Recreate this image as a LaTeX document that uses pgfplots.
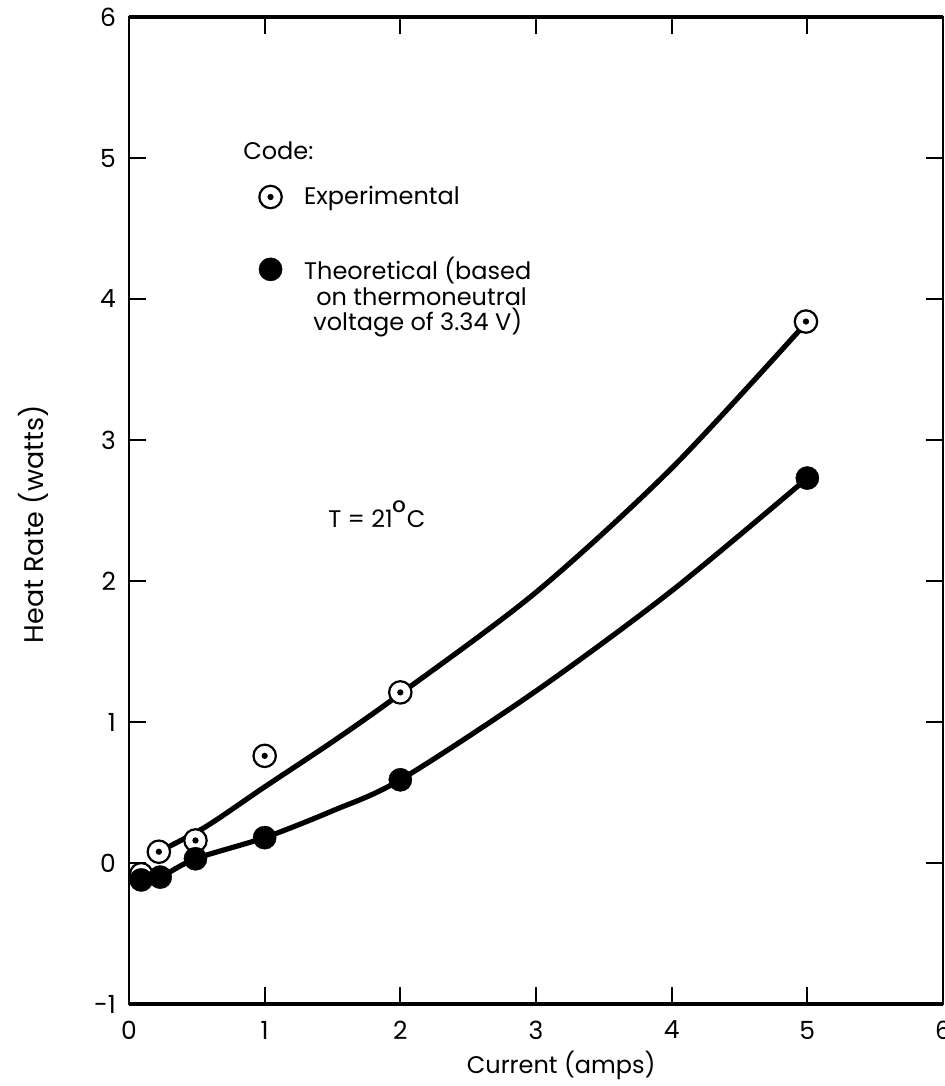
\documentclass[border=0pt]{standalone}
\usepackage{fontspec}
\setmainfont{Poppins}
\usepackage{pgfplots}
\pgfplotsset{compat=1.18}

% open circle with a dot in the middle
\pgfdeclareplotmark{codot}{%
  \pgfpathcircle{\pgfpointorigin}{\pgfplotmarksize}%
  \pgfusepathqfillstroke
  \begin{pgfscope}
    \pgfpathcircle{\pgfpointorigin}{0.28\pgfplotmarksize}%
    \pgfsetfillcolor{black}%
    \pgfusepathqfill
  \end{pgfscope}
}

\begin{document}
\begin{tikzpicture}
\begin{axis}[
    name=ax,
    scale only axis,
    width=407pt, height=493.5pt,
    xmin=0, xmax=6, ymin=-1, ymax=6,
    xtick={0,...,6}, ytick={-1,...,6},
    tick align=inside,
    major tick length=8.5pt,
    tick style={black, line width=1.1pt},
    axis line style={line width=0.9pt},
    /pgf/number format/assume math mode=true,
    font=\fontsize{12}{14}\selectfont,
    ticklabel style={font=\fontsize{12.5}{15}\selectfont},
    xticklabel style={yshift=-5pt},
    yticklabel style={xshift=-3pt},
    xlabel={Current (amps)},
    ylabel={Heat Rate (watts)},
    xlabel style={at={(axis description cs:0.531,-0.0618)}, anchor=center},
    ylabel style={at={(axis description cs:-0.118,0.486)}, anchor=center,
        font=\fontsize{13.5}{15}\selectfont},
    legend style={draw=none, fill=none, inner sep=0pt,
        at={(axis cs:0.955,4.83)}, anchor=north west,
        row sep=20.5pt, column sep=9pt},
    legend cell align=left,
    legend image code/.code={\draw[#1] plot coordinates {(0pt,0pt)};},
    clip=false,
]
    % fitted curves
    \addplot[black, line width=2.6pt, smooth, forget plot] coordinates {
        (0.22,0.08) (0.57,0.26) (1.0,0.54) (1.5,0.86) (2.0,1.2)
        (3.0,1.92) (4.0,2.80) (5.0,3.84)
    };
    \addplot[black, line width=2.6pt, smooth, forget plot] coordinates {
        (0.09,-0.13) (0.23,-0.10) (0.49,0.03) (1.0,0.18) (1.5,0.37)
        (2.0,0.59) (3.0,1.22) (4.0,1.93) (5.0,2.73)
    };
    % data points
    \addplot[only marks, mark=codot, mark size=5.6pt,
        mark options={draw=black, fill=white, line width=1.1pt}] coordinates {
        (0.09,-0.08) (0.22,0.08) (0.49,0.16) (1.0,0.76) (2.0,1.21) (4.99,3.84)
    };
    \addlegendentry{Experimental}
    \addplot[only marks, mark=*, mark size=5.8pt,
        mark options={draw=black, fill=black, line width=0.2pt}] coordinates {
        (0.09,-0.12) (0.23,-0.10) (0.49,0.03) (1.0,0.18) (2.0,0.59) (5.0,2.73)
    };
    \addlegendentry{Theoretical (based}

    \node[anchor=base west, inner sep=0pt] at (axis cs:0.84,4.99) {Code:};
    \node[anchor=base west, inner sep=0pt] at (axis cs:1.378,3.957) {on thermoneutral};
    \node[anchor=base west, inner sep=0pt] at (axis cs:1.356,3.78) {voltage of 3.34 V)};
    \node[anchor=base west, inner sep=0pt] at (axis cs:1.466,2.376)
        {T = 21\raisebox{1.5pt}{\fontsize{17}{17}\selectfont °}C};

    % heavier top and bottom frame
    \draw[line width=2pt] (rel axis cs:0,0) -- (rel axis cs:1,0);
    \draw[line width=2pt] (rel axis cs:0,1) -- (rel axis cs:1,1);
\end{axis}
\pgfresetboundingbox
\path[use as bounding box] ([xshift=-64.5pt,yshift=-41pt]ax.south west)
    rectangle ([xshift=408pt,yshift=502pt]ax.south west);
\end{tikzpicture}
\end{document}
